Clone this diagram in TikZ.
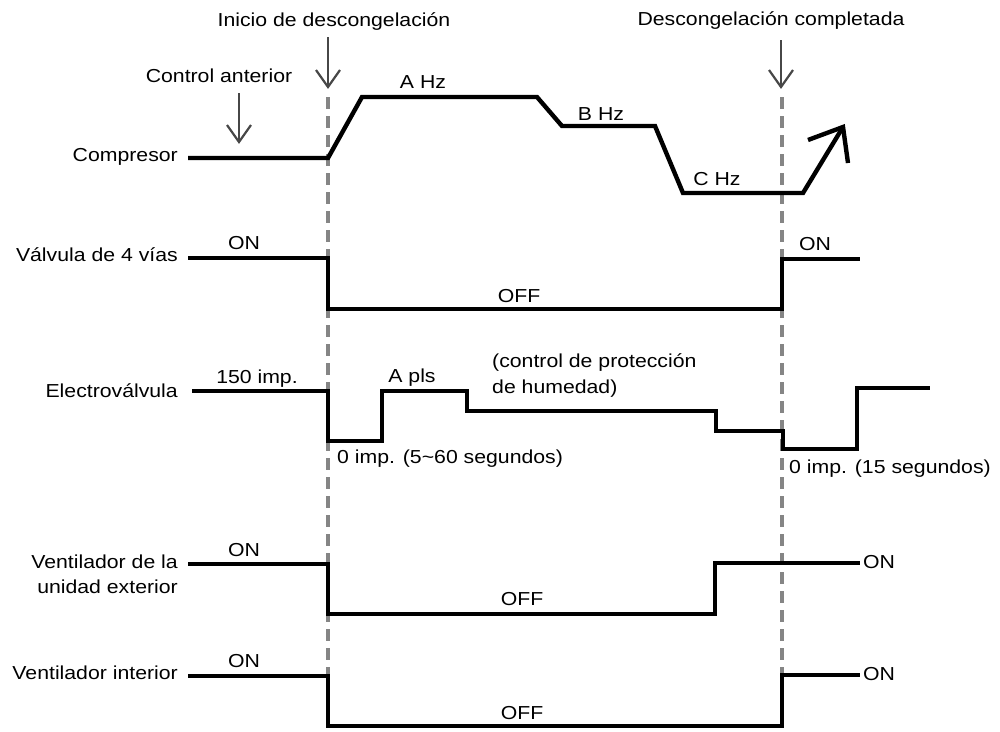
\documentclass[tikz,border=0pt]{standalone}
\usepackage{fontspec}
\setmainfont{Liberation Sans}[FakeStretch=1.13]
\begin{document}
\begin{tikzpicture}[x=1pt,y=-1pt,
  signal/.style={line width=4.4pt, line join=miter, black},
  marker/.style={line width=3.2pt, color=black!48, dash pattern=on 12pt off 7pt},
  pointer/.style={line width=2.2pt, color=black!72, line join=miter},
  lbl/.style={inner sep=0pt, font=\fontsize{18.8}{22}\selectfont},
  ctr/.style={lbl, anchor=base},
  lft/.style={lbl, anchor=base west},
  rgt/.style={lbl, anchor=base east},
]
\useasboundingbox (0,0) rectangle (1000,731);

% --- event markers -------------------------------------------------------
\coordinate (ca-top) at (239,93);  \coordinate (ca-tip) at (239,142);
\coordinate (ini-top) at (328,37); \coordinate (ini-tip) at (328,87);
\coordinate (fin-top) at (781,40); \coordinate (fin-tip) at (781,87);

\node[ctr] (ca-lbl)  at (219,82) {Control anterior};
\node[ctr] (ini-lbl) at (334,26) {Inicio de descongelación};
\node[ctr] (fin-lbl) at (771,25) {Descongelación completada};

\foreach \p in {ca,ini,fin}{
  \draw[pointer] (\p-top) -- (\p-tip);
  \draw[pointer] (\p-tip) ++(-12,-17) -- (\p-tip) -- ++(12,-17);
}

% dashed time references
\coordinate (ini-a) at (328,97); \coordinate (ini-b) at (328,675);
\coordinate (fin-a) at (782,97); \coordinate (fin-b) at (782,675);
\draw[marker] (ini-a) -- (ini-b);
\draw[marker] (fin-a) -- (fin-b);

% --- signal names --------------------------------------------------------
\node[rgt] (n-comp)  at (178,161) {Compresor};
\node[rgt] (n-valve) at (178,261) {Válvula de 4 vías};
\node[rgt] (n-ev)    at (178,397) {Electroválvula};
\node[rgt] (n-ext1)  at (178,568) {Ventilador de la};
\node[rgt] (n-ext2)  at (178,593) {unidad exterior};
\node[rgt] (n-int)   at (178,679) {Ventilador interior};

% --- compressor ----------------------------------------------------------
\draw[signal] (188,158) -- (328,158) -- (362,97) -- (537,97) -- (562,126)
  -- (655,126) -- (683,193) -- (803,193) -- (843,127);
\draw[signal] (808,140) -- (843,127) -- (848,163);
\node[ctr] (c-a) at (423,88)  {A Hz};
\node[ctr] (c-b) at (601,120) {B Hz};
\node[ctr] (c-c) at (717,185) {C Hz};

% --- 4-way valve ---------------------------------------------------------
\draw[signal] (188,258) -- (328,258) -- (328,309) -- (782,309) -- (782,259) -- (860,259);
\node[ctr] (v-on1) at (244,249) {ON};
\node[ctr] (v-off) at (519,302) {OFF};
\node[ctr] (v-on2) at (815,250) {ON};

% --- expansion valve -----------------------------------------------------
\draw[signal] (192,391) -- (328,391) -- (328,441) -- (382,441) -- (382,391)
  -- (467,391) -- (467,411) -- (716,411) -- (716,431) -- (783,431)
  -- (783,449) -- (857,449) -- (857,388) -- (930,388);
\node[ctr] (e-150) at (257,383) {150 imp.};
\node[ctr] (e-a)   at (412,382) {A pls};
\node[lft] (e-h1)  at (492,367) {(control de protección};
\node[lft] (e-h2)  at (492,393) {de humedad)};
\node[lft] (e-z1)  at (337,463) {0 imp. (5\char"7E 60 segundos)};
\node[lft] (e-z2)  at (789,473) {0 imp. (15 segundos)};

% --- outdoor fan ---------------------------------------------------------
\draw[signal] (188,564) -- (328,564) -- (328,614) -- (715,614) -- (715,563) -- (860,563);
\node[ctr] (o-on1) at (244,556) {ON};
\node[ctr] (o-off) at (522,605) {OFF};
\node[lft] (o-on2) at (863,568) {ON};

% --- indoor fan ----------------------------------------------------------
\draw[signal] (188,676) -- (328,676) -- (328,726) -- (782,726) -- (782,675) -- (860,675);
\node[ctr] (i-on1) at (244,667) {ON};
\node[ctr] (i-off) at (522,719) {OFF};
\node[lft] (i-on2) at (863,680) {ON};
\end{tikzpicture}
\end{document}
